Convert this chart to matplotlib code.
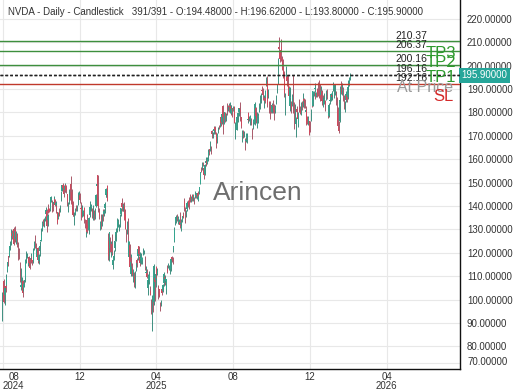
import matplotlib.pyplot as plt
from matplotlib.transforms import blended_transform_factory

plt.rcParams['font.family'] = ['Liberation Sans', 'DejaVu Sans']

# NVDA daily candles, Aug 2024 -> Feb 2026 (one line per month)
opens = [
    92.1, 103.8, 107.8, 102.0, 105.6, 106.3, 112.4, 118.5, 118.8, 121.9, 124.3, 128.4, 127.3, 130.0, 125.9, 129.6, 125.0, 128.1, 121.4, 119.5,
    116.0, 105.4, 104.9, 108.0, 104.9, 107.8, 109.4, 116.8, 119.1, 116.8, 118.2, 115.9, 117.4, 117.1, 116.6, 116.5, 122.0, 126.8, 124.0, 118.3,
    121.8, 116.4, 120.9, 124.9, 125.0, 130.3, 134.1, 131.9, 134.0, 136.5, 137.9, 134.0, 139.3, 138.7, 138.1, 142.9, 142.0, 140.8, 140.9, 143.0, 140.3, 139.5, 137.6,
    134.7, 137.2, 137.5, 143.0, 146.4, 148.8, 148.7, 146.8, 149.1, 147.6, 144.9, 139.5, 141.3, 147.4, 149.4, 145.9, 142.0, 137.7, 135.0, 136.8,
    138.8, 138.3, 142.0, 145.1, 144.6, 139.0, 139.0, 137.4, 137.1, 138.9, 134.2, 129.1, 133.9, 131.8, 129.8, 136.3, 140.0, 139.7, 138.6, 134.8, 138.0,
    136.0, 140.0, 148.6, 153.0, 142.6, 137.5, 130.0, 136.1, 133.7, 138.6, 136.7, 139.2, 144.7, 145.1, 148.4, 124.8, 121.8, 126.5, 123.1, 123.8,
    114.8, 117.0, 121.8, 127.4, 129.2, 130.1, 132.6, 130.0, 131.6, 136.5, 141.3, 139.5, 140.0, 140.0, 136.6, 130.0, 130.0, 135.0, 118.0,
    123.5, 110.7, 117.6, 113.5, 111.3, 109.9, 107.0, 112.7, 117.0, 118.6, 122.7, 118.0, 117.3, 116.6, 117.0, 119.9, 120.5, 118.7, 111.4, 111.5, 105.1,
    108.5, 107.3, 103.5, 98.9, 87.5, 103.8, 98.9, 109.4, 108.5, 114.1, 111.0, 104.6, 104.5, 98.8, 98.8, 104.5, 103.5, 106.9, 109.7, 107.7, 104.5,
    113.1, 114.2, 112.9, 111.5, 113.1, 118.3, 117.4, 122.0, 125.0, 133.2, 134.3, 136.2, 132.4, 134.3, 133.1, 132.2, 130.0, 134.2, 136.0, 142.3, 138.7,
    135.5, 138.8, 142.2, 142.2, 142.5, 143.2, 142.7, 144.6, 142.0, 142.5, 143.4, 144.5, 144.0, 145.5, 142.5, 145.6, 149.3, 156.0, 156.0, 158.4,
    156.3, 153.6, 158.2, 158.8, 158.5, 161.2, 164.3, 163.7, 165.4, 172.0, 171.1, 172.0, 173.6, 172.8, 171.3, 169.5, 172.4, 173.6, 174.0, 177.9, 176.0, 182.9,
    174.1, 175.2, 179.6, 176.3, 181.6, 181.6, 182.2, 183.0, 182.6, 179.8, 181.9, 180.6, 182.4, 175.1, 174.8, 172.6, 178.4, 180.1, 182.0, 180.8, 178.1,
    170.0, 171.1, 170.6, 168.0, 167.6, 169.1, 176.6, 179.7, 177.8, 175.7, 177.0, 172.6, 174.0, 175.8, 175.3, 182.0, 179.8, 174.5, 178.2, 180.4, 182.1,
    185.2, 189.6, 189.2, 185.5, 186.2, 186.6, 192.2, 193.5, 188.0, 184.8, 184.8, 182.2, 180.2, 183.1, 182.8, 181.1, 180.4, 183.8, 190.0, 193.1, 208.0, 205.2, 206.5,
    208.1, 203.0, 198.8, 196.4, 184.9, 195.1, 195.2, 195.7, 191.1, 182.9, 186.0, 183.4, 184.8, 196.0, 181.2, 179.5, 174.9, 181.6, 179.0,
    174.8, 181.8, 181.1, 181.6, 183.9, 182.6, 185.6, 185.0, 180.3, 181.1, 177.9, 176.3, 176.1, 174.5, 176.7, 183.9, 182.9, 187.9, 189.9, 187.7, 187.0, 189.6,
    189.8, 191.8, 190.5, 187.6, 189.0, 185.1, 183.2, 185.3, 185.0, 186.5, 188.6, 181.7, 178.5, 184.8, 185.6, 187.2, 187.5, 189.9, 191.8, 190.0,
    187.4, 185.8, 181.0, 173.9, 176.5, 186.0, 190.6, 189.0, 190.5, 185.8, 182.2, 185.2, 187.5, 186.4, 191.0, 192.4, 194.48,
]
highs = [
    103.4, 107.7, 108.8, 105.5, 106.6, 111.1, 116.2, 118.6, 122.9, 125.0, 130.0, 129.9, 129.4, 130.8, 129.6, 131.3, 129.2, 128.3, 124.4, 121.8,
    116.2, 113.3, 109.7, 108.2, 106.6, 108.4, 117.2, 120.8, 119.9, 118.2, 118.8, 117.7, 119.7, 118.6, 117.0, 121.8, 124.9, 127.7, 124.0, 121.5,
    122.4, 119.4, 124.4, 125.0, 130.6, 133.5, 134.5, 135.0, 135.8, 139.6, 138.6, 136.6, 140.9, 138.9, 143.7, 144.4, 142.4, 141.4, 144.1, 143.1, 142.3, 140.3, 137.6,
    137.3, 139.0, 140.4, 146.5, 148.9, 149.8, 148.9, 149.7, 149.3, 149.0, 145.2, 141.6, 147.1, 147.6, 152.9, 147.2, 142.1, 139.3, 137.2, 139.0,
    140.5, 140.4, 145.8, 146.5, 145.7, 140.0, 141.8, 140.2, 138.4, 139.6, 134.4, 131.6, 136.7, 134.0, 135.3, 139.8, 141.9, 140.9, 139.0, 140.3, 138.1,
    138.9, 144.9, 152.2, 153.1, 144.0, 139.2, 133.5, 136.4, 136.5, 138.8, 138.5, 141.8, 147.8, 147.2, 149.0, 128.4, 129.0, 126.9, 125.0, 127.9,
    118.6, 121.2, 125.0, 128.8, 130.4, 135.0, 134.5, 132.2, 136.5, 139.3, 143.4, 141.4, 140.7, 141.5, 138.6, 130.2, 133.7, 135.0, 125.1,
    123.7, 119.3, 118.3, 115.4, 113.0, 111.9, 112.2, 116.1, 117.8, 121.9, 122.9, 119.0, 120.4, 120.0, 118.0, 122.0, 121.3, 118.8, 114.5, 112.9, 111.0,
    110.2, 112.0, 105.6, 100.1, 101.8, 105.9, 115.1, 110.9, 111.0, 114.3, 113.6, 106.2, 104.5, 99.0, 99.8, 104.8, 106.5, 111.9, 110.4, 110.2, 108.9,
    114.9, 115.4, 114.7, 114.7, 117.7, 118.7, 118.2, 123.0, 131.2, 135.4, 136.3, 136.4, 135.9, 134.6, 137.4, 134.3, 132.7, 135.7, 137.3, 143.5, 139.6,
    138.1, 142.0, 142.4, 144.0, 143.3, 145.0, 144.3, 145.0, 145.0, 143.6, 146.2, 145.2, 145.7, 146.2, 144.8, 147.9, 154.5, 156.7, 158.7, 158.7,
    157.2, 157.8, 161.0, 159.7, 161.0, 164.4, 164.5, 167.9, 165.5, 172.4, 171.8, 174.2, 174.3, 173.4, 171.4, 171.3, 173.7, 174.7, 176.8, 179.4, 179.9, 183.3,
    176.5, 180.3, 180.3, 179.9, 183.9, 183.3, 183.9, 184.5, 183.0, 183.0, 181.9, 182.9, 182.5, 175.9, 176.9, 178.9, 180.0, 182.0, 182.9, 184.5, 178.1,
    172.4, 172.4, 171.9, 169.0, 171.0, 171.0, 179.3, 180.3, 178.6, 178.9, 177.5, 173.2, 177.1, 178.1, 184.6, 182.4, 179.8, 180.3, 179.8, 184.0, 187.4,
    188.1, 191.1, 190.4, 187.2, 189.1, 189.6, 195.3, 195.6, 190.1, 184.8, 184.9, 183.3, 184.1, 185.2, 182.8, 183.4, 183.0, 187.5, 192.0, 203.2, 212.2, 206.2, 208.0,
    211.3, 204.0, 202.9, 197.6, 188.3, 199.9, 195.4, 195.9, 191.4, 191.0, 189.0, 184.8, 187.9, 196.0, 184.6, 183.5, 178.2, 182.9, 179.3,
    180.3, 185.7, 182.5, 184.5, 184.7, 188.3, 186.0, 185.5, 181.3, 182.8, 178.4, 178.5, 176.1, 176.1, 181.4, 184.2, 189.3, 189.0, 192.7, 188.8, 188.8, 190.6,
    192.9, 193.6, 192.2, 191.4, 189.5, 187.6, 186.4, 188.1, 185.2, 189.7, 189.8, 182.9, 184.0, 186.1, 188.2, 189.2, 189.0, 193.0, 192.3, 192.0,
    188.9, 186.5, 182.1, 176.5, 185.9, 191.2, 193.2, 192.5, 191.0, 187.6, 185.0, 189.0, 188.5, 191.7, 193.6, 195.2, 196.62,
]
lows = [
    90.7, 100.6, 98.7, 97.5, 103.4, 106.0, 111.6, 114.3, 118.3, 121.2, 123.4, 125.9, 126.5, 123.1, 125.2, 124.4, 123.9, 122.6, 116.7, 117.2,
    107.3, 104.1, 104.8, 100.9, 103.7, 105.2, 107.4, 115.4, 117.6, 114.4, 114.8, 113.2, 117.3, 115.4, 114.9, 115.4, 121.2, 121.8, 119.3, 118.2,
    115.8, 115.1, 118.6, 121.8, 124.9, 129.4, 131.4, 131.0, 133.7, 136.3, 128.7, 131.6, 136.9, 137.3, 138.0, 141.8, 137.5, 138.0, 140.8, 140.1, 138.9, 136.8, 132.1,
    134.6, 135.6, 137.3, 142.0, 146.2, 146.3, 143.6, 146.0, 145.9, 145.6, 140.1, 137.2, 141.0, 142.7, 140.7, 141.1, 135.8, 135.7, 131.8, 136.3,
    137.8, 138.0, 140.3, 144.0, 141.3, 137.1, 133.8, 135.2, 135.8, 132.5, 130.4, 126.9, 128.3, 129.6, 128.2, 135.1, 138.7, 137.7, 134.7, 134.0, 133.8,
    134.6, 139.7, 147.8, 140.0, 137.6, 134.2, 129.5, 130.1, 131.3, 133.5, 135.5, 137.1, 143.7, 143.7, 141.9, 116.7, 116.3, 120.1, 118.1, 119.2,
    113.0, 116.7, 120.8, 125.2, 125.0, 129.0, 131.0, 129.1, 131.2, 135.5, 137.9, 137.8, 137.8, 134.0, 130.1, 124.4, 128.2, 120.0, 116.4,
    112.3, 110.1, 114.5, 110.2, 107.6, 105.5, 104.8, 112.0, 113.8, 116.9, 118.6, 114.5, 115.4, 115.1, 115.2, 119.0, 119.3, 112.7, 110.7, 109.1, 101.9,
    106.5, 106.8, 101.8, 93.9, 86.6, 94.5, 97.5, 99.2, 105.5, 109.1, 110.5, 100.1, 100.9, 95.0, 97.3, 102.0, 103.1, 105.7, 106.0, 107.4, 102.2,
    111.3, 113.4, 112.7, 110.8, 112.3, 115.9, 115.2, 120.3, 124.5, 131.7, 132.7, 133.5, 132.4, 132.6, 130.6, 131.6, 129.2, 133.3, 134.8, 137.9, 132.9,
    135.4, 138.0, 139.6, 138.8, 141.5, 141.9, 141.5, 141.9, 141.9, 140.9, 143.2, 143.2, 143.1, 142.7, 142.0, 145.0, 149.3, 154.4, 155.4, 156.9,
    151.5, 153.0, 157.6, 157.2, 157.7, 159.1, 161.6, 163.5, 162.0, 169.2, 168.9, 170.8, 171.3, 170.9, 164.6, 167.0, 171.3, 172.9, 173.8, 174.0, 175.2, 175.9,
    170.9, 175.1, 175.9, 176.2, 178.8, 180.4, 180.3, 179.5, 178.8, 179.4, 178.0, 180.6, 175.5, 168.8, 173.8, 172.6, 175.8, 178.3, 179.1, 176.4, 173.1,
    167.2, 169.2, 169.4, 164.1, 167.3, 166.7, 175.5, 176.5, 176.5, 174.5, 174.4, 168.4, 173.0, 175.2, 174.7, 176.2, 175.4, 173.1, 175.4, 180.3, 181.5,
    183.9, 188.1, 185.4, 182.0, 184.0, 186.5, 191.1, 182.1, 186.0, 179.7, 177.3, 179.8, 179.8, 181.7, 179.8, 176.8, 179.8, 183.5, 188.4, 191.9, 204.8, 201.4, 202.1,
    205.6, 197.9, 194.6, 186.4, 178.9, 193.8, 191.3, 191.1, 183.9, 180.6, 184.3, 179.7, 182.8, 179.9, 172.9, 176.5, 169.6, 178.2, 176.5,
    173.7, 180.0, 179.1, 179.0, 180.9, 182.4, 181.9, 182.0, 176.6, 174.6, 175.0, 174.4, 170.3, 171.8, 176.4, 182.4, 182.9, 186.8, 188.8, 185.6, 186.6, 186.5,
    186.9, 186.1, 185.0, 186.8, 183.3, 183.4, 182.1, 183.4, 180.6, 185.4, 185.9, 177.6, 177.9, 183.5, 184.9, 185.8, 185.1, 188.9, 186.1, 187.6,
    183.2, 177.2, 173.4, 171.0, 175.8, 185.2, 188.0, 187.4, 185.0, 181.6, 180.0, 184.5, 184.6, 185.9, 188.7, 191.3, 193.8,
]
closes = [
    100.5, 104.3, 98.9, 104.8, 104.8, 109.0, 116.1, 118.1, 122.9, 124.6, 130.0, 127.3, 128.5, 123.7, 129.4, 126.5, 128.3, 125.6, 117.6, 119.4,
    108.0, 106.2, 107.2, 102.8, 106.5, 108.1, 116.9, 119.1, 119.1, 116.8, 115.6, 113.4, 117.9, 116.0, 116.3, 120.9, 124.0, 124.0, 121.4, 121.4,
    117.0, 118.9, 122.8, 124.9, 127.7, 132.9, 132.7, 134.8, 134.8, 138.1, 131.6, 135.7, 136.9, 138.0, 143.7, 143.6, 139.6, 140.4, 141.5, 140.5, 141.3, 139.3, 132.8,
    135.4, 136.1, 139.9, 145.6, 148.9, 147.6, 145.3, 148.3, 146.3, 146.8, 142.0, 140.2, 147.0, 145.9, 146.7, 142.0, 136.0, 136.9, 135.3, 138.3,
    138.6, 140.3, 145.1, 145.1, 142.4, 138.8, 135.1, 139.3, 137.3, 134.3, 132.0, 130.4, 128.9, 130.7, 134.7, 139.7, 140.2, 139.9, 137.0, 137.5, 134.3,
    138.3, 144.5, 149.4, 140.1, 140.1, 135.9, 133.2, 131.8, 136.2, 133.6, 137.7, 140.8, 147.1, 147.2, 142.6, 118.4, 129.0, 123.7, 124.7, 120.1,
    116.7, 118.7, 124.8, 128.7, 129.8, 133.6, 132.8, 131.1, 135.3, 138.9, 139.4, 139.2, 140.1, 134.4, 130.3, 126.6, 131.3, 120.2, 124.9,
    114.1, 116.0, 117.3, 110.6, 112.7, 107.0, 108.8, 115.7, 115.6, 121.7, 119.5, 115.4, 117.5, 118.5, 117.7, 121.4, 120.7, 113.8, 111.4, 109.7, 108.4,
    110.2, 110.4, 101.8, 94.3, 97.6, 96.3, 114.3, 107.6, 110.9, 110.7, 112.2, 104.5, 101.5, 96.9, 98.9, 102.7, 106.4, 111.0, 108.7, 109.0, 108.9,
    111.6, 114.5, 113.8, 113.5, 117.1, 117.4, 116.6, 123.0, 129.9, 135.3, 134.8, 135.4, 135.6, 134.4, 131.8, 132.8, 131.3, 135.5, 134.8, 139.2, 135.1,
    137.4, 141.2, 141.9, 140.0, 141.7, 142.6, 144.0, 142.8, 145.0, 142.0, 144.7, 144.1, 145.5, 143.9, 144.2, 147.9, 154.3, 155.0, 157.8, 158.0,
    153.3, 157.3, 159.3, 158.2, 160.0, 162.9, 164.1, 164.9, 164.1, 170.7, 171.4, 173.0, 172.4, 171.4, 167.0, 170.8, 173.7, 173.5, 176.8, 175.5, 179.3, 177.9,
    173.7, 180.0, 178.3, 179.4, 180.8, 182.7, 182.1, 183.2, 181.6, 182.0, 180.5, 182.0, 175.6, 175.4, 175.0, 178.0, 179.8, 181.8, 181.6, 180.2, 174.2,
    170.8, 170.6, 171.7, 167.0, 168.3, 170.8, 177.3, 177.2, 177.8, 177.8, 174.9, 170.3, 176.2, 176.7, 183.6, 178.4, 177.0, 177.7, 178.2, 181.9, 186.6,
    187.2, 188.9, 187.6, 185.5, 185.0, 189.1, 192.6, 183.2, 188.3, 180.0, 179.8, 181.8, 183.2, 182.6, 181.2, 180.3, 182.2, 186.3, 191.5, 201.0, 207.0, 202.9, 202.5,
    206.9, 198.7, 195.2, 188.1, 188.2, 199.1, 193.2, 193.8, 186.9, 190.2, 186.6, 181.4, 186.5, 180.6, 178.9, 182.6, 177.8, 180.3, 177.0,
    179.9, 181.5, 179.6, 183.4, 182.4, 185.6, 185.0, 183.8, 180.9, 175.0, 176.3, 177.7, 170.9, 174.1, 181.0, 183.7, 189.2, 188.6, 190.5, 187.5, 188.2, 186.5,
    188.9, 188.1, 187.2, 189.1, 185.0, 184.9, 184.9, 185.8, 183.1, 187.0, 186.2, 178.1, 183.3, 184.8, 187.7, 186.5, 188.5, 191.5, 192.0, 191.1,
    185.6, 180.3, 174.2, 172.1, 185.4, 190.0, 188.6, 190.1, 186.0, 182.8, 184.4, 187.9, 185.4, 190.8, 191.9, 194.3, 195.9,
]
if not (len(opens) == len(highs) == len(lows) == len(closes) == 391):
    raise SystemExit(f'length mismatch {len(opens)} {len(highs)} {len(lows)} {len(closes)}')

tick_bars = [1, 87, 173, 259, 345, 431]
tick_labels = ['08\n2024', '12', '04\n2025', '08', '12', '04\n2026']
price_ticks = [80, 90, 100, 110, 120, 130, 140, 150, 160, 170, 180, 190, 200, 210, 220]

# level lines: (value, colour, style)
levels = [(210.37, '#3d8f3d', '-'), (206.37, '#3d8f3d', '-'), (200.16, '#3d8f3d', '-'),
          (196.16, '#222222', (0, (2, 1.5))), (195.90, '#222222', (0, (2, 1.5))),
          (192.16, '#c0392b', '-')]
level_labels = ['210.37', '206.37', '200.16', '196.16', '192.16']
level_label_vals = [210.37, 206.37, 200.16, 196.16, 192.16]

last_price = 195.90
up_col = '#35a58f'
down_col = '#cf4a5d'
up_wick = '#3e8f80'
down_wick = '#a9596a'

fig = plt.figure(figsize=(5.2, 3.9), dpi=100)
ax = fig.add_axes([0, 21 / 390, 460 / 520, 369 / 390])

x = list(range(len(closes)))
is_up = [c >= o for o, c in zip(opens, closes)]
cols = [up_col if u else down_col for u in is_up]
wcols = [up_wick if u else down_wick for u in is_up]
ax.vlines(x, lows, highs, colors=wcols, linewidth=0.7, zorder=3)
bottoms = [min(o, c) for o, c in zip(opens, closes)]
heights = [max(abs(c - o), 0.4) for o, c in zip(opens, closes)]
ax.bar(x, heights, bottom=bottoms, width=0.8, color=cols, linewidth=0, zorder=3)

for val, col, ls in levels:
    ax.axhline(val, color=col, linestyle=ls, linewidth=1.0, zorder=4)

ax.set_xlim(-2.24, 512.9)
ax.set_ylim(70.3, 228.0)

ax.yaxis.tick_right()
ax.set_yticks(price_ticks)
ax.set_yticklabels([f'{v:.5f}' for v in price_ticks])
ax.set_xticks(tick_bars)
ax.set_xticklabels(tick_labels)
ax.tick_params(axis='y', length=0, pad=5, labelsize=7, labelcolor='#333333')
ax.tick_params(axis='x', length=0, pad=2, labelsize=7, labelcolor='#333333')
for lab in ax.get_xticklabels():
    lab.set_linespacing(0.95)
first = ax.get_xticklabels()[0]
first.set_ha('left')
first.set_multialignment('center')

ax.grid(True, color='#e8e8e8', linewidth=0.8, zorder=0)
ax.set_axisbelow(True)
for side in ['left', 'top']:
    ax.spines[side].set_visible(False)
for side in ['right', 'bottom']:
    ax.spines[side].set_color('#111111')
    ax.spines[side].set_linewidth(1.0)

tr = blended_transform_factory(ax.transAxes, ax.transData)
# extra price labels the chart library squeezed in at the edges
ax.text(1.016, 230, '230.00000', transform=tr, fontsize=7, color='#333333', va='center', clip_on=False)
ax.axhline(72.8, color='#e8e8e8', linewidth=0.8, zorder=0)
ax.text(1.016, 73.3, '70.00000', transform=tr, fontsize=7, color='#333333', va='center', clip_on=False)

for lab, val in zip(level_labels, level_label_vals):
    ax.text(0.859, val + 0.3, lab, transform=tr, fontsize=7.5, color='#222222', va='bottom', zorder=5)

ax.text(0.926, 205.3, 'TP3', transform=tr, fontsize=12, color='#2e9a2e', va='center', zorder=6)
ax.text(0.926, 201.3, 'TP2', transform=tr, fontsize=12, color='#2e9a2e', va='center', zorder=6)
ax.text(0.926, 194.9, 'TP1', transform=tr, fontsize=12, color='#2e9a2e', va='center', zorder=6)
ax.text(0.864, 190.6, 'At Price', transform=tr, fontsize=11.5, color='#9a9a9a', va='center', zorder=6)
ax.text(0.942, 186.8, 'SL', transform=tr, fontsize=12, color='#d42a2a', va='center', zorder=6)

ax.text(1.003, last_price, f'{last_price:.5f}', transform=tr, fontsize=7, color='white',
        va='center', ha='left', clip_on=False,
        bbox=dict(boxstyle='square,pad=0.25', facecolor='#26a69a', edgecolor='none'))

fig.text(258 / 520, 1 - 193 / 390, 'Arincen', ha='center', va='center', fontsize=19, color='#6e6e6e')
fig.text(8 / 520, 1 - 12 / 390,
         'NVDA - Daily - Candlestick   391/391 - O:194.48000 - H:196.62000 - L:193.80000 - C:195.90000',
         ha='left', va='center', fontsize=7, color='#333333')

fig.savefig('out.png', dpi=100)
